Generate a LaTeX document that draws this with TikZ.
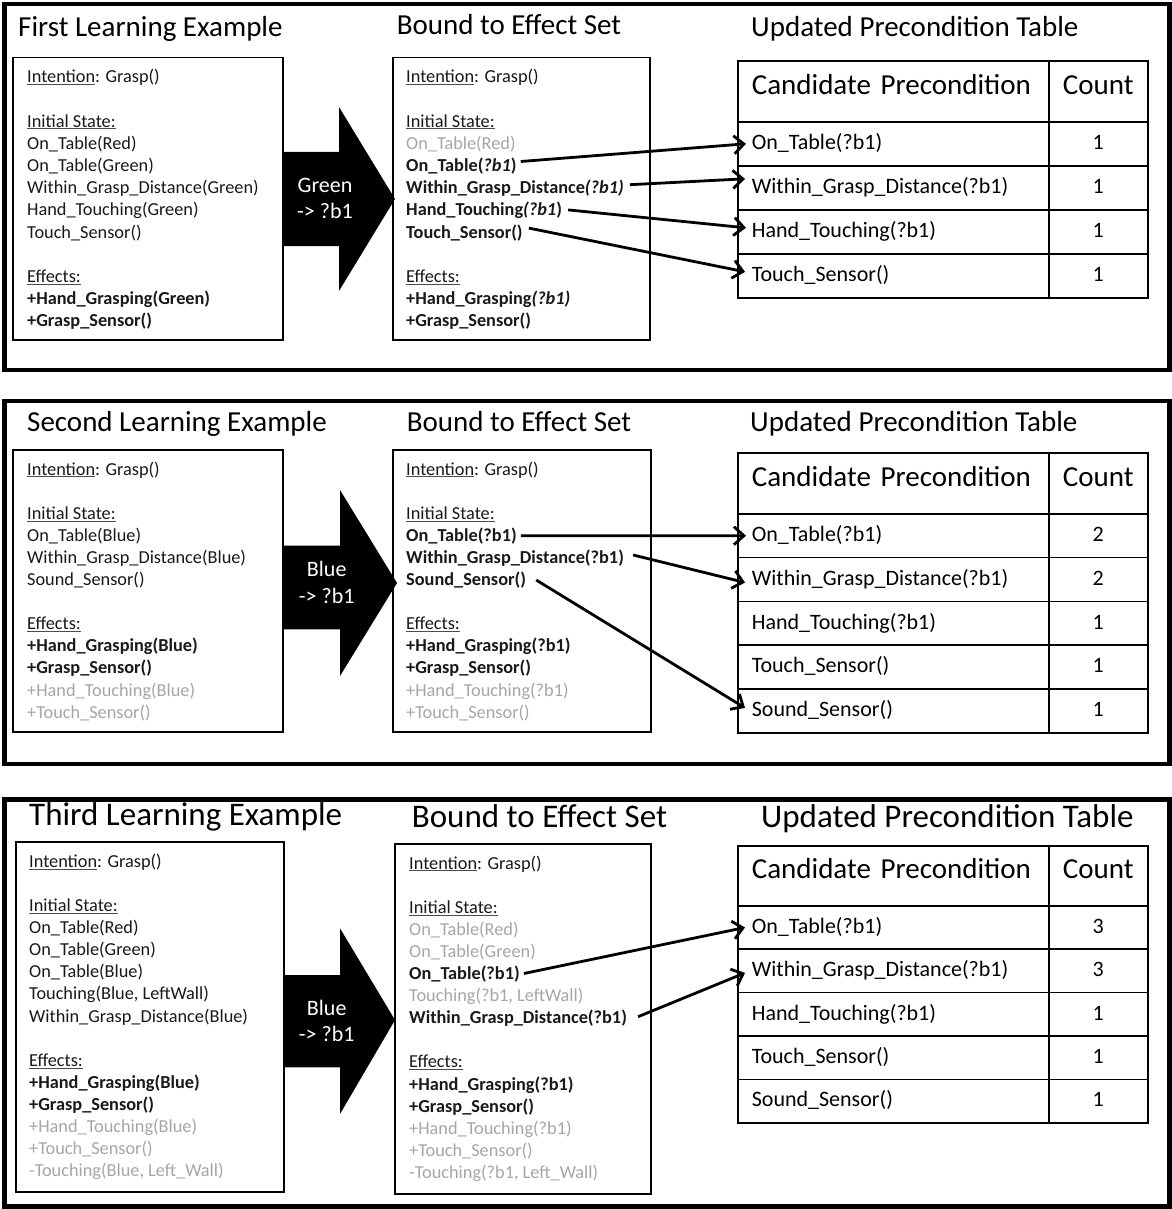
\documentclass[tikz,border=0pt]{standalone}
\usepackage{fontspec}
\setmainfont{Carlito}
\usetikzlibrary{arrows.meta}

\definecolor{faded}{gray}{0.65}
\definecolor{ink}{gray}{0.1}

% underline drawn as a thin rule just below the baseline
\newcommand\ulx[1]{\setbox0\hbox{#1}\rlap{\color{black!70}\rule[-2.4pt]{\wd0}{1pt}}\box0}

% one text line of a card: name, line index, text (uses \bx, \by, \bs)
\newcommand\txtline[3]{\node[txt] (#1) at (\bx,{\by+\bs*#2}) {#3};}

% precondition table: prefix, top y, header height, row height, rows {text/count,...}
\newcommand\ptable[5]{%
  \node[hdrA, minimum height=#3pt] (#1h) at (737,#2) {Candidate Precondition};
  \node[hdrB, minimum height=#3pt] (#1hc) at (1048,#2) {Count};
  \foreach \txt/\cnt [count=\i] in {#5} {
    \pgfmathsetmacro\yy{#2+#3+(\i-1)*#4}
    \node[cellA, minimum height=#4pt] (#1r\i) at (737,\yy) {\txt};
    \node[cellB, minimum height=#4pt] (#1c\i) at (1048,\yy) {\cnt};
  }
}

\begin{document}
\begin{tikzpicture}[
  x=1pt, y=-1pt,
  txt/.style={anchor=base west, inner sep=0pt, font=\fontsize{18.3}{22}\selectfont, text=ink},
  ttl/.style={anchor=base west, inner sep=0pt, font=\fontsize{29}{34}\selectfont},
  bigttl/.style={ttl, font=\fontsize{33}{38}\selectfont},
  panel/.style={draw, line width=4.5pt},
  card/.style={draw, line width=1.5pt},
  blockarrow/.style={fill=black},
  arrlbl/.style={anchor=base, inner sep=0pt, text=white, font=\fontsize{22}{26}\selectfont},
  conn/.style={line width=2.8pt, -{Straight Barb[length=10pt,width=18pt]}},
  cellA/.style={draw, line width=1.6pt, anchor=north west, inner xsep=14pt, inner ysep=0pt,
    text width=283pt, align=left, font=\fontsize{22}{26}\selectfont,
    text height=15pt, text depth=3.6pt},
  cellB/.style={cellA, inner xsep=4pt, text width=91pt, align=center},
  hdrA/.style={cellA, font=\fontsize{29}{34}\selectfont, text height=20pt, text depth=14.4pt},
  hdrB/.style={hdrA, inner xsep=4pt, text width=91pt, align=center}
]
\useasboundingbox (0,0) rectangle (1171,1209);
\fill[white] (0,0) rectangle (1171,1209);

% ---------------- first learning example ----------------
\draw[panel] (4.5,4) rectangle (1169.5,370);
\node[ttl] (t1a) at (18,36.7) {First Learning Example};
\node[ttl] (t1b) at (396.7,34.3) {Bound to Effect Set};
\node[ttl] (t1c) at (751,37) {Updated Precondition Table};

\fill[blockarrow] (283,152) -- (339,152) -- (339,107) -- (395,199) -- (339,291) -- (339,246) -- (283,246) -- cycle;
\node[arrlbl] (g1a) at (325,192.7) {Green};
\node[arrlbl] (g1b) at (325,218.3) {-> ?b1};

\draw[card] (13,57.5) rectangle (283,340);
\draw[card] (393,57.5) rectangle (650,340);

\def\bx{27}\def\by{82.7}\def\bs{22.2}
\txtline{aL0}{0}{\ulx{Intention}: Grasp()}
\txtline{aL2}{2}{\ulx{Initial State:}}
\txtline{aL3}{3}{On\_Table(Red)}
\txtline{aL4}{4}{On\_Table(Green)}
\txtline{aL5}{5}{Within\_Grasp\_Distance(Green)}
\txtline{aL6}{6}{Hand\_Touching(Green)}
\txtline{aL7}{7}{Touch\_Sensor()}
\txtline{aL9}{9}{\ulx{Effects:}}
\txtline{aL10}{10}{\textbf{+Hand\_Grasping(Green)}}
\txtline{aL11}{11}{\textbf{+Grasp\_Sensor()}}

\def\bx{406}
\txtline{aM0}{0}{\ulx{Intention}: Grasp()}
\txtline{aM2}{2}{\ulx{Initial State:}}
\txtline{aM3}{3}{\color{faded}On\_Table(Red)}
\txtline{aM4}{4}{\textbf{On\_Table(\textit{?b1})}}
\txtline{aM5}{5}{\textbf{Within\_Grasp\_Distance\textit{(?b1)}}}
\txtline{aM6}{6}{\textbf{Hand\_Touching\textit{(?b1})}}
\txtline{aM7}{7}{\textbf{Touch\_Sensor()}}
\txtline{aM9}{9}{\ulx{Effects:}}
\txtline{aM10}{10}{\textbf{+Hand\_Grasping\textit{(?b1)}}}
\txtline{aM11}{11}{\textbf{+Grasp\_Sensor()}}

\ptable{ta}{60}{61}{44}{On\_Table(?b1)/1, Within\_Grasp\_Distance(?b1)/1, Hand\_Touching(?b1)/1, Touch\_Sensor()/1}

\draw[conn] ([xshift=4pt,yshift=10pt]aM4.base east) -- ([xshift=9pt]tar1.west);
\draw[conn] ([xshift=6pt,yshift=9pt]aM5.base east) -- ([xshift=8pt,yshift=9pt]tar2.west);
\draw[conn] ([xshift=6pt,yshift=6pt]aM6.base east) -- ([xshift=9pt,yshift=4pt]tar3.west);
\draw[conn] ([xshift=6pt,yshift=10pt]aM7.base east) -- ([xshift=8pt,yshift=4pt]tar4.west);

% ---------------- second learning example ----------------
\draw[panel] (4.5,401) rectangle (1169.5,764);
\node[ttl] (t2a) at (27,431) {Second Learning Example};
\node[ttl] (t2b) at (406.7,431) {Bound to Effect Set};
\node[ttl] (t2c) at (750,431) {Updated Precondition Table};

\fill[blockarrow] (284,545.7) -- (340,545.7) -- (340,490) -- (397,583) -- (340,676) -- (340,629.3) -- (284,629.3) -- cycle;
\node[arrlbl] (g2a) at (326.7,576.7) {Blue};
\node[arrlbl] (g2b) at (326.7,603.3) {-> ?b1};

\draw[card] (13,450) rectangle (283,732);
\draw[card] (393,450) rectangle (651,732);

\def\bx{27}\def\by{475}\def\bs{22.1}
\txtline{bL0}{0}{\ulx{Intention}: Grasp()}
\txtline{bL2}{2}{\ulx{Initial State:}}
\txtline{bL3}{3}{On\_Table(Blue)}
\txtline{bL4}{4}{Within\_Grasp\_Distance(Blue)}
\txtline{bL5}{5}{Sound\_Sensor()}
\txtline{bL7}{7}{\ulx{Effects:}}
\txtline{bL8}{8}{\textbf{+Hand\_Grasping(Blue)}}
\txtline{bL9}{9}{\textbf{+Grasp\_Sensor()}}
\txtline{bL10}{10}{\color{faded}+Hand\_Touching(Blue)}
\txtline{bL11}{11}{\color{faded}+Touch\_Sensor()}

\def\bx{406}
\txtline{bM0}{0}{\ulx{Intention}: Grasp()}
\txtline{bM2}{2}{\ulx{Initial State:}}
\txtline{bM3}{3}{\textbf{On\_Table(?b1)}}
\txtline{bM4}{4}{\textbf{Within\_Grasp\_Distance(?b1)}}
\txtline{bM5}{5}{\textbf{Sound\_Sensor()}}
\txtline{bM7}{7}{\ulx{Effects:}}
\txtline{bM8}{8}{\textbf{+Hand\_Grasping(?b1)}}
\txtline{bM9}{9}{\textbf{+Grasp\_Sensor()}}
\txtline{bM10}{10}{\color{faded}+Hand\_Touching(?b1)}
\txtline{bM11}{11}{\color{faded}+Touch\_Sensor()}

\ptable{tb}{452}{61}{43.8}{On\_Table(?b1)/2, Within\_Grasp\_Distance(?b1)/2, Hand\_Touching(?b1)/1, Touch\_Sensor()/1, Sound\_Sensor()/1}

\draw[conn] ([xshift=4pt,yshift=5.6pt]bM3.base east) -- ([xshift=9pt]tbr1.west);
\draw[conn] ([xshift=9pt,yshift=8.4pt]bM4.base east) -- ([xshift=8pt,yshift=-3pt]tbr2.west);
\draw[conn] ([xshift=10pt,yshift=5.5pt]bM5.base east) -- ([xshift=8pt,yshift=3pt]tbr5.west);

% ---------------- third learning example ----------------
\draw[panel] (4.5,799.5) rectangle (1169.5,1206.5);
\node[bigttl] (t3a) at (29,825) {Third Learning Example};
\node[bigttl] (t3b) at (411.7,827.3) {Bound to Effect Set};
\node[bigttl] (t3c) at (761,827) {Updated Precondition Table};

\fill[blockarrow] (284,975) -- (340,975) -- (340,928.3) -- (395,1020) -- (340,1114) -- (340,1067.3) -- (284,1067.3) -- cycle;
\node[arrlbl] (g3a) at (326.7,1015) {Blue};
\node[arrlbl] (g3b) at (326.7,1041.7) {-> ?b1};

\draw[card] (16,842) rectangle (284,1192);
\draw[card] (395,844) rectangle (651,1194);

\def\bx{29}\def\by{867.3}\def\bs{22.1}
\txtline{cL0}{0}{\ulx{Intention}: Grasp()}
\txtline{cL2}{2}{\ulx{Initial State:}}
\txtline{cL3}{3}{On\_Table(Red)}
\txtline{cL4}{4}{On\_Table(Green)}
\txtline{cL5}{5}{On\_Table(Blue)}
\txtline{cL6}{6}{Touching(Blue, LeftWall)}
\txtline{cL7}{7}{Within\_Grasp\_Distance(Blue)}
\txtline{cL9}{9}{\ulx{Effects:}}
\txtline{cL10}{10}{\textbf{+Hand\_Grasping(Blue)}}
\txtline{cL11}{11}{\textbf{+Grasp\_Sensor()}}
\txtline{cL12}{12}{\color{faded}+Hand\_Touching(Blue)}
\txtline{cL13}{13}{\color{faded}+Touch\_Sensor()}
\txtline{cL14}{14}{\color{faded}-Touching(Blue, Left\_Wall)}

\def\bx{409}\def\by{869}
\txtline{cM0}{0}{\ulx{Intention}: Grasp()}
\txtline{cM2}{2}{\ulx{Initial State:}}
\txtline{cM3}{3}{\color{faded}On\_Table(Red)}
\txtline{cM4}{4}{\color{faded}On\_Table(Green)}
\txtline{cM5}{5}{\textbf{On\_Table(?b1)}}
\txtline{cM6}{6}{\color{faded}Touching(?b1, LeftWall)}
\txtline{cM7}{7}{\textbf{Within\_Grasp\_Distance(?b1)}}
\txtline{cM9}{9}{\ulx{Effects:}}
\txtline{cM10}{10}{\textbf{+Hand\_Grasping(?b1)}}
\txtline{cM11}{11}{\textbf{+Grasp\_Sensor()}}
\txtline{cM12}{12}{\color{faded}+Hand\_Touching(?b1)}
\txtline{cM13}{13}{\color{faded}+Touch\_Sensor()}
\txtline{cM14}{14}{\color{faded}-Touching(?b1, Left\_Wall)}

\ptable{tc}{845}{60}{43.4}{On\_Table(?b1)/3, Within\_Grasp\_Distance(?b1)/3, Hand\_Touching(?b1)/1, Touch\_Sensor()/1, Sound\_Sensor()/1}

\draw[conn] ([xshift=4pt,yshift=6pt]cM5.base east) -- ([xshift=8pt]tcr1.west);
\draw[conn] ([xshift=11pt,yshift=7pt]cM7.base east) -- ([xshift=8pt,yshift=-2pt]tcr2.west);
\end{tikzpicture}
\end{document}
